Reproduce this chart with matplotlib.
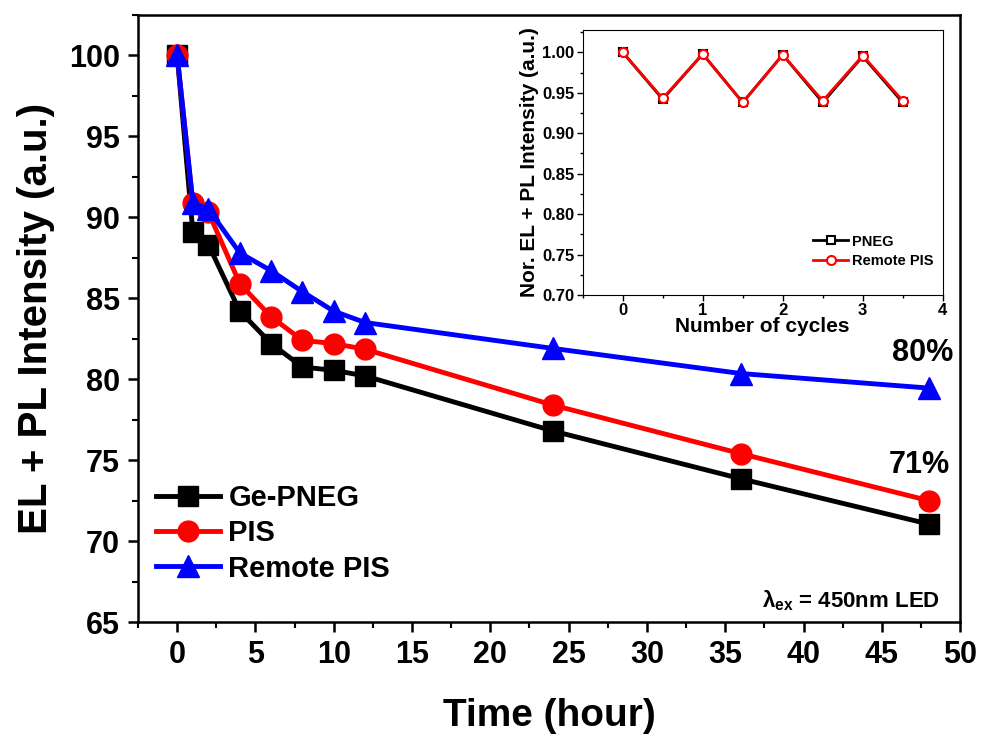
import matplotlib.pyplot as plt
from matplotlib.ticker import MultipleLocator

plt.rcParams['font.family'] = ['Liberation Sans', 'DejaVu Sans']
plt.rcParams['font.weight'] = 'bold'
plt.rcParams['mathtext.fontset'] = 'custom'
plt.rcParams['mathtext.bf'] = 'Liberation Sans:bold'
plt.rcParams['mathtext.rm'] = 'Liberation Sans:bold'

# main data
hours = [0, 1, 2, 4, 6, 8, 10, 12, 24, 36, 48]
ge_pneg = [100, 89.1, 88.3, 84.2, 82.2, 80.75, 80.55, 80.2, 76.8, 73.85, 71.05]
pis = [100, 90.9, 90.3, 85.9, 83.85, 82.4, 82.2, 81.85, 78.4, 75.4, 72.5]
remote_pis = [100, 90.9, 90.5, 87.8, 86.7, 85.4, 84.2, 83.5, 81.9, 80.35, 79.45]

# inset data
cycles = [0, 0.5, 1, 1.5, 2, 2.5, 3, 3.5]
inset_pneg = [1.0, 0.942, 0.998, 0.938, 0.997, 0.938, 0.995, 0.938]
inset_remote = [1.0, 0.943, 0.998, 0.938, 0.997, 0.940, 0.996, 0.940]

fig = plt.figure(figsize=(9.81, 7.35), dpi=100)
ax = fig.add_axes([0.1407, 0.1537, 0.838, 0.826])

ax.plot(hours, ge_pneg, color='black', marker='s', ms=14, lw=3.5, label='Ge-PNEG')
ax.plot(hours, pis, color='red', marker='o', ms=15, lw=3.5, label='PIS')
ax.plot(hours, remote_pis, color='blue', marker='^', ms=16, lw=3.5, label='Remote PIS')

ax.set_xlim(-2.5, 50)
ax.set_ylim(65, 102.5)
ax.xaxis.set_major_locator(MultipleLocator(5))
ax.xaxis.set_minor_locator(MultipleLocator(2.5))
ax.yaxis.set_major_locator(MultipleLocator(5))
ax.yaxis.set_minor_locator(MultipleLocator(2.5))
ax.tick_params(which='major', direction='out', length=7, width=1.8, labelsize=22, pad=6)
ax.tick_params(which='minor', direction='out', length=4, width=1.5)
for s in ax.spines.values():
    s.set_linewidth(1.8)
ax.set_xlabel('Time (hour)', fontsize=28, fontweight='bold', labelpad=20)
ax.set_ylabel('EL + PL Intensity (a.u.)', fontsize=29, fontweight='bold', labelpad=10)

ax.legend(loc='lower left', bbox_to_anchor=(0.0, 0.036), frameon=False, fontsize=21,
          handlelength=2.2, handletextpad=0.3, labelspacing=0.25, borderaxespad=0.2)

ax.text(47.6, 80.7, '80%', fontsize=22, fontweight='bold', ha='center', va='bottom')
ax.text(47.4, 73.75, '71%', fontsize=22, fontweight='bold', ha='center', va='bottom')
ax.text(48.7, 66.3, r'$\mathbf{\lambda_{ex}}$ = 450nm LED', fontsize=16, fontweight='bold',
        ha='right', va='center')

# inset
ins = fig.add_axes([0.594, 0.5986, 0.367, 0.361])
ins.plot(cycles, inset_pneg, color='black', marker='s', ms=6, mfc='white', mew=1.5, lw=2, label='PNEG')
ins.plot(cycles, inset_remote, color='red', marker='o', ms=6.5, mfc='white', mew=1.5, lw=2, label='Remote PIS')
ins.set_xlim(-0.5, 4)
ins.set_ylim(0.70, 1.028)
ins.xaxis.set_major_locator(MultipleLocator(1))
ins.xaxis.set_minor_locator(MultipleLocator(0.5))
ins.yaxis.set_major_locator(MultipleLocator(0.05))
ins.yaxis.set_minor_locator(MultipleLocator(0.025))
ins.tick_params(which='major', direction='out', length=4, width=1, labelsize=12, pad=2)
ins.tick_params(which='minor', direction='out', length=2.5, width=1)
ins.set_yticks([0.70, 0.75, 0.80, 0.85, 0.90, 0.95, 1.00])
ins.set_yticklabels(['0.70', '0.75', '0.80', '0.85', '0.90', '0.95', '1.00'])
ins.set_xlabel('Number of cycles', fontsize=15, fontweight='bold', labelpad=-1)
ins.set_ylabel('Nor. EL + PL Intensity (a.u.)', fontsize=15, fontweight='bold', labelpad=2)
ins.legend(loc='lower right', bbox_to_anchor=(1.0, 0.07), frameon=False, fontsize=10.5,
           handlelength=2.4, handletextpad=0.3, labelspacing=0.35, borderaxespad=0.2)

fig.savefig('out.png', dpi=100)
